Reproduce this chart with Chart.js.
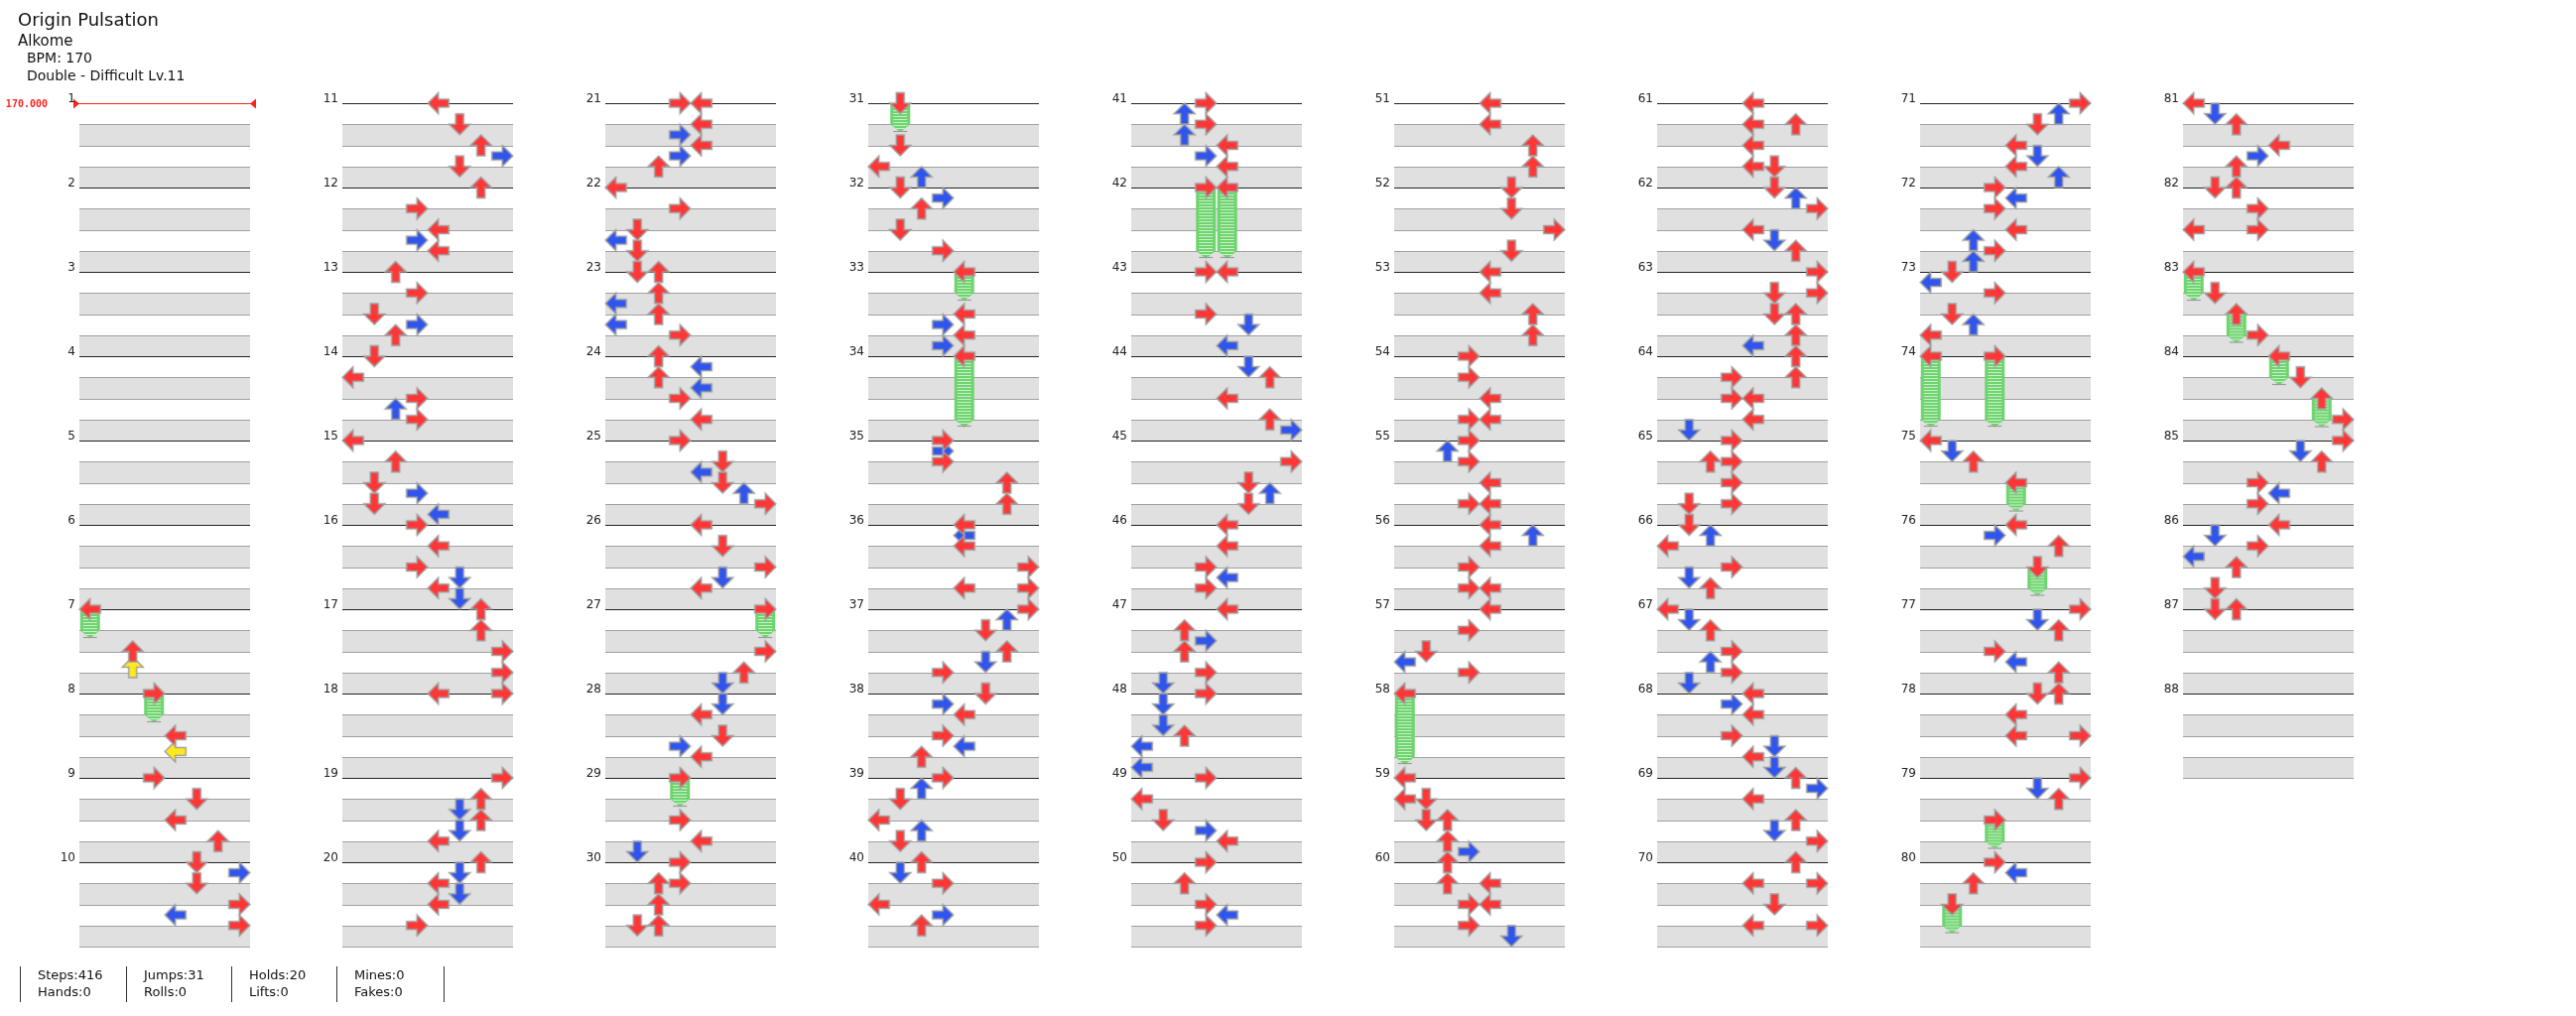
<!DOCTYPE html>
<html>
<head>
<meta charset="utf-8">
<script src="https://cdn.jsdelivr.net/npm/chart.js@4.4.0/dist/chart.umd.min.js"></script>
<style>
  body { margin: 0; background: #fff; font-family: "DejaVu Sans", sans-serif; color: #111; }
  #wrap { position: relative; width: 2596px; height: 1024px; }
  #chart { position: absolute; left: 0; top: 0; }
  .t { position: absolute; white-space: nowrap; }
  .foot { position: absolute; top: 974px; font-size: 13px; line-height: 17px; border-left: 1px solid #333; padding-left: 17px; height: 36px; }
</style>
</head>
<body>
<div id="wrap">
  <canvas id="chart" width="2596" height="1024"></canvas>
  <div class="t" style="left:18px;top:9px;font-size:18px;">Origin Pulsation</div>
  <div class="t" style="left:18px;top:32px;font-size:15px;">Alkome</div>
  <div class="t" style="left:27px;top:50px;font-size:14px;">BPM: 170</div>
  <div class="t" style="left:27px;top:68px;font-size:14px;">Double - Difficult Lv.11</div>
  <div class="foot" style="left:20px;">Steps:416<br>Hands:0</div>
  <div class="foot" style="left:127px;">Jumps:31<br>Rolls:0</div>
  <div class="foot" style="left:233px;">Holds:20<br>Lifts:0</div>
  <div class="foot" style="left:339px;">Mines:0<br>Fakes:0</div>
  <div class="foot" style="left:447px;"></div>
</div>
<script>
// step chart data: [measure, beat, lane]  lanes 0..7 = L D U R L D U R
const notes = [
  [7,2,2],[7,2.75,2],[8,2,4],[8,2.75,4],
  [9,0,3],[9,1,5],[9,2,4],[9,3,6],
  [10,0,5],[10,0.5,7],[10,1,5],[10,2,7],[10,2.5,4],[10,3,7],
  [11,0,4],[11,1,5],[11,2,6],[11,2.5,7],[11,3,5],
  [12,0,6],[12,1,3],[12,2,4],[12,2.5,3],[12,3,4],
  [13,0,2],[13,1,3],[13,2,1],[13,2.5,3],[13,3,2],
  [14,0,1],[14,1,0],[14,2,3],[14,2.5,2],[14,3,3],
  [15,0,0],[15,1,2],[15,2,1],[15,2.5,3],[15,3,1],[15,3.5,4],
  [16,0,3],[16,1,4],[16,2,3],[16,2.5,5],[16,3,4],[16,3.5,5],
  [17,0,6],[17,1,6],[17,2,7],[17,3,7],
  [18,0,4],[18,0,7],
  [19,0,7],[19,1,6],[19,1.5,5],[19,2,6],[19,2.5,5],[19,3,4],
  [20,0,6],[20,0.5,5],[20,1,4],[20,1.5,5],[20,2,4],[20,3,3],
  [21,0,3],[21,0,4],[21,1,4],[21,1.5,3],[21,2,4],[21,2.5,3],[21,3,2],
  [22,0,0],[22,1,3],[22,2,1],[22,2.5,0],[22,3,1],
  [23,0,1],[23,0,2],[23,1,2],[23,1.5,0],[23,2,2],[23,2.5,0],[23,3,3],
  [24,0,2],[24,0.5,4],[24,1,2],[24,1.5,4],[24,2,3],[24,3,4],
  [25,0,3],[25,1,5],[25,1.5,4],[25,2,5],[25,2.5,6],[25,3,7],
  [26,0,4],[26,1,5],[26,2,7],[26,2.5,5],[26,3,4],
  [27,2,7],[27,3,6],[27,3.5,5],
  [28,0.5,5],[28,1,4],[28,2,5],[28,2.5,3],[28,3,4],
  [29,2,3],[29,3,4],[29,3.5,1],
  [30,0,3],[30,1,2],[30,1,3],[30,2,2],[30,3,1],[30,3,2],
  [31,2,1],[31,3,0],[31,3.5,2],
  [32,0,1],[32,0.5,3],[32,1,2],[32,2,1],[32,3,3],
  [33,2,4],[33,2.5,3],[33,3,4],[33,3.5,3],
  [35,0,3],[35,0.5,3],[35,1,3],[35,2,6],[35,3,6],
  [36,0,4],[36,0.5,4],[36,1,4],[36,2,7],[36,3,4],[36,3,7],
  [37,0,7],[37,0.5,6],[37,1,5],[37,2,6],[37,2.5,5],[37,3,3],
  [38,0,5],[38,0.5,3],[38,1,4],[38,2,3],[38,2.5,4],[38,3,2],
  [39,0,3],[39,0.5,2],[39,1,1],[39,2,0],[39,2.5,2],[39,3,1],
  [40,0,2],[40,0.5,1],[40,1,3],[40,2,0],[40,2.5,3],[40,3,2],
  [41,0,3],[41,0.5,2],[41,1,3],[41,1.5,2],[41,2,4],[41,2.5,3],[41,3,4],
  [43,0,3],[43,0,4],[43,2,3],[43,2.5,5],[43,3.5,4],
  [44,0.5,5],[44,1,6],[44,2,4],[44,3,6],[44,3.5,7],
  [45,1,7],[45,2,5],[45,2.5,6],[45,3,5],
  [46,0,4],[46,1,4],[46,2,3],[46,2.5,4],[46,3,3],
  [47,0,4],[47,1,2],[47,1.5,3],[47,2,2],[47,3,3],[47,3.5,1],
  [48,0,3],[48,0.5,1],[48,1.5,1],[48,2,2],[48,2.5,0],[48,3.5,0],
  [49,0,3],[49,1,0],[49,2,1],[49,2.5,3],[49,3,4],
  [50,0,3],[50,1,2],[50,2,3],[50,2.5,4],[50,3,3],
  [51,0,4],[51,1,4],[51,2,6],[51,3,6],
  [52,0,5],[52,1,5],[52,2,7],[52,3,5],
  [53,0,4],[53,1,4],[53,2,6],[53,3,6],
  [54,0,3],[54,1,3],[54,2,4],[54,3,3],[54,3,4],
  [55,0,3],[55,0.5,2],[55,1,3],[55,2,4],[55,3,3],[55,3,4],
  [56,0,4],[56,0.5,6],[56,1,4],[56,2,3],[56,3,3],[56,3,4],
  [57,0,4],[57,1,3],[57,2,1],[57,2.5,0],[57,3,3],
  [59,0,0],[59,1,0],[59,1,1],[59,2,1],[59,2,2],[59,3,2],[59,3.5,3],
  [60,0,2],[60,1,2],[60,1,4],[60,2,3],[60,2,4],[60,3,3],[60,3.5,5],
  [61,0,4],[61,1,4],[61,1,6],[61,2,4],[61,3,4],[61,3,5],
  [62,0,5],[62,0.5,6],[62,1,7],[62,2,4],[62,2.5,5],[62,3,6],
  [63,0,7],[63,1,5],[63,1,7],[63,2,5],[63,2,6],[63,3,6],[63,3.5,4],
  [64,0,6],[64,1,3],[64,1,6],[64,2,3],[64,2,4],[64,3,4],[64,3.5,1],
  [65,0,3],[65,1,2],[65,1,3],[65,2,3],[65,3,1],[65,3,3],
  [66,0,1],[66,0.5,2],[66,1,0],[66,2,3],[66,2.5,1],[66,3,2],
  [67,0,0],[67,0.5,1],[67,1,2],[67,2,3],[67,2.5,2],[67,3,3],[67,3.5,1],
  [68,0,4],[68,0.5,3],[68,1,4],[68,2,3],[68,2.5,5],[68,3,4],[68,3.5,5],
  [69,0,6],[69,0.5,7],[69,1,4],[69,2,6],[69,2.5,5],[69,3,7],
  [70,0,6],[70,1,4],[70,1,7],[70,2,5],[70,3,4],[70,3,7],
  [71,0,7],[71,0.5,6],[71,1,5],[71,2,4],[71,2.5,5],[71,3,4],[71,3.5,6],
  [72,0,3],[72,0.5,4],[72,1,3],[72,2,4],[72,2.5,2],[72,3,3],[72,3.5,2],
  [73,0,1],[73,0.5,0],[73,1,3],[73,2,1],[73,2.5,2],[73,3,0],
  [75,0,0],[75,0.5,1],[75,1,2],
  [76,0,4],[76,0.5,3],[76,1,6],
  [77,0,7],[77,0.5,5],[77,1,6],[77,2,3],[77,2.5,4],[77,3,6],
  [78,0,5],[78,0,6],[78,1,4],[78,2,4],[78,2,7],
  [79,0,7],[79,0.5,5],[79,1,6],
  [80,0,3],[80,0.5,4],[80,1,2],
  [81,0,0],[81,0.5,1],[81,1,2],[81,2,4],[81,2.5,3],[81,3,2],
  [82,0,1],[82,0,2],[82,1,3],[82,2,0],[82,2,3],
  [83,1,1],[83,3,3],[84,1,5],[84,3,7],
  [85,0,7],[85,0.5,5],[85,1,6],[85,2,3],[85,2.5,4],[85,3,3],
  [86,0,4],[86,0.5,1],[86,1,3],[86,1.5,0],[86,2,2],[86,3,1],
  [87,0,1],[87,0,2]
];
// freeze arrows: [measure, beat, lane, length in beats]
const holds = [
  [7,0,0,1],[8,0,3,1],[27,0,7,1],[29,0,3,1],[31,0,1,1],[33,0,4,1],[34,0,4,3],
  [42,0,3,3],[42,0,4,3],[58,0,0,3],[74,0,0,3],[74,0,3,3],[75,2,4,1],[76,2,5,1],
  [79,2,3,1],[80,2,1,1],[83,0,0,1],[83,2,2,1],[84,0,4,1],[84,2,6,1]
];
const measureCount = 88;
const measuresPerColumn = 10;
const bpmLabel = '170.000';

const COL = 265 / 21.5;     // column pitch in lanes
const ROT = [0, 270, 90, 180]; // L D U R

function arrowImage(fill) {
  const c = document.createElement('canvas');
  c.width = 25; c.height = 25;
  const g = c.getContext('2d');
  g.beginPath();
  g.moveTo(2, 12.5); g.lineTo(12.5, 2); g.lineTo(12.5, 8.5); g.lineTo(23, 8.5);
  g.lineTo(23, 16.5); g.lineTo(12.5, 16.5); g.lineTo(12.5, 23); g.closePath();
  g.fillStyle = fill; g.fill();
  g.lineWidth = 1.5; g.strokeStyle = '#a0a0a0'; g.stroke();
  return c;
}

function pos(m, beat, lane) {
  const col = Math.floor((m - 1) / measuresPerColumn);
  const row = (m - 1) % measuresPerColumn;
  return { x: col * COL + lane + 0.5, y: row * 4 + beat };
}

const allNotes = notes.concat(holds.map(h => [h[0], h[1], h[2]]));
function colorOf(beat) {
  const f = beat % 1;
  if (f === 0) return 'red';
  if (f === 0.5) return 'blue';
  return 'yellow';
}
function points(kind) {
  return allNotes.filter(n => colorOf(n[1]) === kind).map(n => Object.assign(pos(n[0], n[1], n[2]), { r: ROT[n[2] % 4] }));
}

const images = { red: arrowImage('#ff3636'), blue: arrowImage('#2f55ee'), yellow: arrowImage('#ffe81c') };

function ds(kind) {
  const d = points(kind);
  return {
    data: d,
    pointStyle: images[kind],
    rotation: d.map(p => p.r),
    pointRadius: 11,
    showLine: false
  };
}

const gridPlugin = {
  id: 'grid',
  beforeDatasetsDraw(chart) {
    const { ctx, scales: { x, y } } = chart;
    ctx.save();
    for (let m = 1; m <= measureCount; m++) {
      const col = Math.floor((m - 1) / measuresPerColumn);
      const row = (m - 1) % measuresPerColumn;
      const x0 = Math.round(x.getPixelForValue(col * COL));
      const x1 = Math.round(x.getPixelForValue(col * COL + 8));
      const yb = b => Math.round(y.getPixelForValue(row * 4 + b)) + 0.5;
      [[1, 2], [3, 4]].forEach(([a, b]) => {
        ctx.fillStyle = '#e0e0e0';
        ctx.fillRect(x0, yb(a), x1 - x0, yb(b) - yb(a));
        ctx.strokeStyle = '#a0a0a0'; ctx.lineWidth = 1;
        ctx.beginPath();
        ctx.moveTo(x0, yb(a)); ctx.lineTo(x1, yb(a));
        ctx.moveTo(x0, yb(b)); ctx.lineTo(x1, yb(b));
        ctx.stroke();
      });
      const ym = yb(0);
      if (m === 1) {
        ctx.strokeStyle = '#ff2020'; ctx.fillStyle = '#ff2020'; ctx.lineWidth = 1;
        ctx.beginPath(); ctx.moveTo(x0 - 6, ym); ctx.lineTo(x1 + 6, ym); ctx.stroke();
        ctx.beginPath(); ctx.moveTo(x0 - 6, ym - 5); ctx.lineTo(x0, ym); ctx.lineTo(x0 - 6, ym + 5); ctx.fill();
        ctx.beginPath(); ctx.moveTo(x1 + 6, ym - 5); ctx.lineTo(x1, ym); ctx.lineTo(x1 + 6, ym + 5); ctx.fill();
        ctx.font = 'bold 10px "DejaVu Sans Mono", monospace';
        ctx.textAlign = 'right'; ctx.textBaseline = 'middle';
        ctx.fillText(bpmLabel, x0 - 32, ym + 1);
      } else {
        ctx.strokeStyle = '#222'; ctx.lineWidth = 1.2;
        ctx.beginPath(); ctx.moveTo(x0, ym); ctx.lineTo(x1, ym); ctx.stroke();
      }
      ctx.fillStyle = '#222';
      ctx.font = '12px "DejaVu Sans", sans-serif';
      ctx.textAlign = 'right'; ctx.textBaseline = 'bottom';
      ctx.fillText(String(m), x0 - 4, ym + 1);
    }
    // freeze bodies
    holds.forEach(h => {
      const p = pos(h[0], h[1], h[2]);
      const cx = x.getPixelForValue(p.x);
      const top = y.getPixelForValue(p.y);
      const bot = y.getPixelForValue(p.y + h[3]);
      const w = 10;
      ctx.beginPath();
      ctx.moveTo(cx - w, top); ctx.lineTo(cx + w, top); ctx.lineTo(cx + w, bot);
      ctx.lineTo(cx, bot + 8); ctx.lineTo(cx - w, bot); ctx.closePath();
      ctx.fillStyle = '#6fd46f'; ctx.fill();
      ctx.save(); ctx.clip();
      ctx.strokeStyle = '#c6f2c6'; ctx.lineWidth = 1;
      for (let yy = top + 1.5; yy < bot + 8; yy += 3) {
        ctx.beginPath(); ctx.moveTo(cx - w + 3, yy); ctx.lineTo(cx + w - 3, yy); ctx.stroke();
      }
      ctx.restore();
      ctx.strokeStyle = '#9a9a9a'; ctx.lineWidth = 1.2; ctx.stroke();
    });
    ctx.restore();
  }
};

new Chart(document.getElementById('chart'), {
  type: 'scatter',
  data: { datasets: [ds('red'), ds('blue'), ds('yellow')] },
  options: {
    responsive: false,
    animation: false,
    devicePixelRatio: 1,
    layout: { padding: { left: 80, top: 104, right: 16, bottom: 70 } },
    plugins: { legend: { display: false }, tooltip: { enabled: false } },
    events: [],
    clip: false,
    scales: {
      x: { type: 'linear', display: false, min: 0, max: 2500 / 21.5 },
      y: { type: 'linear', display: false, min: 0, max: 40, reverse: true }
    }
  },
  plugins: [gridPlugin]
});
</script>
</body>
</html>
